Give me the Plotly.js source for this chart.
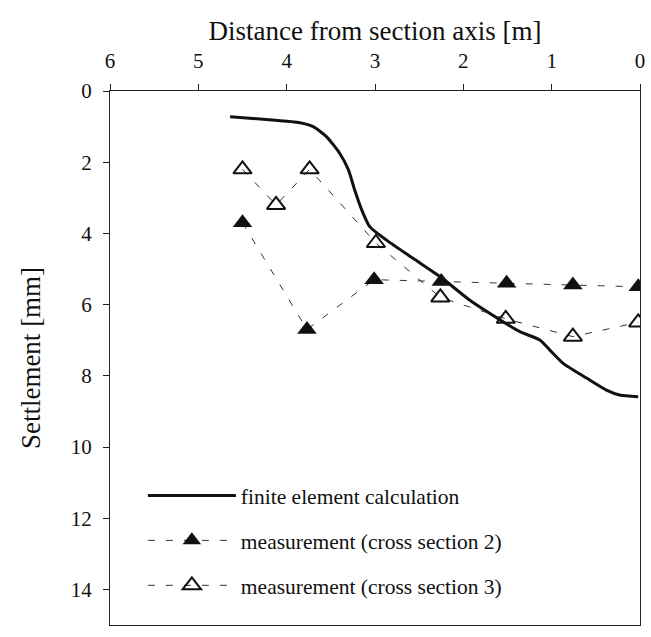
<!DOCTYPE html>
<html>
<head>
<meta charset="utf-8">
<script src="https://cdn.plot.ly/plotly-3.0.1.min.js"></script>
<style>html,body{margin:0;padding:0;background:#fff;}#chart{width:651px;height:637px;}</style>
</head>
<body>
<div id="chart"></div>
<script>
// Finite element calculation (distance [m], settlement [mm])
const feX = [4.64, 4.23, 3.85, 3.70, 3.55, 3.40, 3.30, 3.23, 3.15, 3.06, 2.87, 2.57, 2.26, 1.93, 1.55, 1.36, 1.13, 1.02, 0.87, 0.60, 0.38, 0.23, 0.02];
const feY = [0.72, 0.80, 0.89, 1.00, 1.28, 1.75, 2.22, 2.78, 3.34, 3.81, 4.19, 4.70, 5.22, 5.87, 6.48, 6.76, 7.00, 7.28, 7.65, 8.07, 8.40, 8.54, 8.59];
// Measurement, cross section 2
const cs2X = [4.50, 3.77, 3.01, 2.25, 1.51, 0.76, 0.02];
const cs2Y = [3.70, 6.70, 5.30, 5.35, 5.40, 5.45, 5.50];
// Measurement, cross section 3
const cs3X = [4.50, 4.12, 3.74, 2.99, 2.26, 1.52, 0.76, 0.02];
const cs3Y = [2.20, 3.20, 2.20, 4.27, 5.80, 6.40, 6.90, 6.50];
// Tick labels
const xTicks = [6, 5, 4, 3, 2, 1, 0];
const yTicks = [0, 2, 4, 6, 8, 10, 12, 14];

const serif = 'Liberation Serif, Times New Roman, serif';

const traces = [
  {x: feX, y: feY, mode: 'lines', name: 'finite element calculation',
   line: {color: '#111', width: 3, shape: 'spline', smoothing: 0.6}, legendgroup: 'a'},
  {x: cs2X, y: cs2Y, mode: 'lines+markers', name: 'measurement (cross section 2)',
   line: {color: '#333', width: 1, dash: '7px,11px'},
   marker: {symbol: 'triangle-up', size: 17, color: '#111'}, legendgroup: 'b'},
  {x: cs3X, y: cs3Y, mode: 'lines+markers', name: 'measurement (cross section 3)',
   line: {color: '#333', width: 1, dash: '7px,11px'},
   marker: {symbol: 'triangle-up-open', size: 16, color: '#111', line: {width: 2, color: '#111'}}, legendgroup: 'c'}
];

const layout = {
  width: 651, height: 637,
  margin: {l: 110, r: 11, t: 91, b: 12},
  paper_bgcolor: '#fff', plot_bgcolor: '#fff',
  font: {family: serif, color: '#111', size: 21},
  showlegend: true,
  legend: {x: 0.062, y: 0.281, xanchor: 'left', yanchor: 'top', bgcolor: 'rgba(0,0,0,0)',
           font: {family: serif, size: 21.5, color: '#111'}, itemwidth: 88,
           traceorder: 'grouped', tracegroupgap: 14},
  xaxis: {side: 'top', range: [6, 0], tickvals: xTicks, ticktext: xTicks.map(String),
          showgrid: false, zeroline: false, showline: true, linecolor: '#222', linewidth: 1,
          mirror: true, ticks: 'outside', ticklen: 6, tickcolor: '#222', ticklabelstandoff: 8,
          tickfont: {family: serif, size: 21},
          title: {text: 'Distance from section axis [m]', font: {family: serif, size: 27}, standoff: 0}},
  yaxis: {range: [15, 0], tickvals: yTicks, ticktext: yTicks.map(String),
          showgrid: false, zeroline: false, showline: true, linecolor: '#222', linewidth: 1,
          mirror: true, ticks: 'outside', ticklen: 6, tickcolor: '#222', ticklabelstandoff: 7,
          tickfont: {family: serif, size: 21},
          title: {text: 'Settlement [mm]', font: {family: serif, size: 27}, standoff: 22}}
};

Plotly.newPlot('chart', traces, layout, {staticPlot: true, displayModeBar: false});
</script>
</body>
</html>
